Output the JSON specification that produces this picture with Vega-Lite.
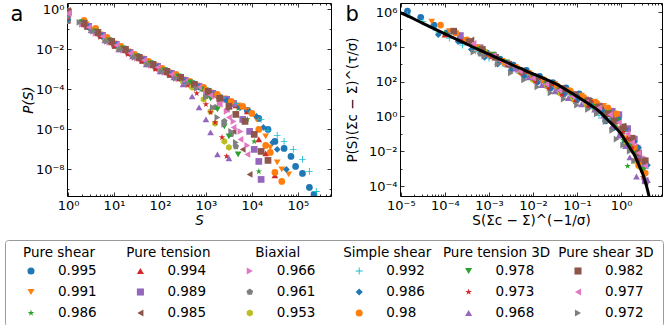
{
"$schema":"https://vega.github.io/schema/vega-lite/v6.json",
"background":"white",
"padding":{"left":2,"top":2,"right":0,"bottom":0},
"datasets":{
"pts":[
{"s":"Pure shear 0.995","S":1,"P":0.501,"X":1.41e-5,"Y":1.12e6},
{"s":"Pure shear 0.995","S":2.0,"P":0.224,"X":2.82e-5,"Y":5.01e5},
{"s":"Pure shear 0.995","S":3.98,"P":0.0794,"X":5.62e-5,"Y":1.78e5},
{"s":"Pure shear 0.995","S":7.94,"P":0.0282,"X":1.12e-4,"Y":6.31e4},
{"s":"Pure shear 0.995","S":15.8,"P":0.01,"X":2.24e-4,"Y":2.24e4},
{"s":"Pure shear 0.995","S":31.6,"P":4.47e-3,"X":4.47e-4,"Y":1e4},
{"s":"Pure shear 0.995","S":63.1,"P":2.0e-3,"X":8.91e-4,"Y":4.47e3},
{"s":"Pure shear 0.995","S":126,"P":8.91e-4,"X":1.78e-3,"Y":2.0e3},
{"s":"Pure shear 0.995","S":251,"P":3.98e-4,"X":3.55e-3,"Y":891},
{"s":"Pure shear 0.995","S":501,"P":2.0e-4,"X":7.08e-3,"Y":447},
{"s":"Pure shear 0.995","S":1000,"P":8.91e-5,"X":1.41e-2,"Y":200},
{"s":"Pure shear 0.995","S":1995,"P":3.98e-5,"X":2.82e-2,"Y":89.1},
{"s":"Pure shear 0.995","S":3981,"P":2.0e-5,"X":5.62e-2,"Y":44.7},
{"s":"Pure shear 0.995","S":7943,"P":8.91e-6,"X":0.112,"Y":20.0},
{"s":"Pure shear 0.995","S":14125,"P":3.55e-6,"X":0.2,"Y":7.94},
{"s":"Pure shear 0.995","S":22387,"P":1e-6,"X":0.316,"Y":2.24},
{"s":"Pure shear 0.995","S":31623,"P":2.51e-7,"X":0.447,"Y":0.562},
{"s":"Pure shear 0.995","S":50119,"P":1.12e-7,"X":0.708,"Y":0.251},
{"s":"Pure shear 0.995","S":70795,"P":4.47e-8,"X":1,"Y":0.1},
{"s":"Pure shear 0.995","S":89125,"P":1.41e-8,"X":1.26,"Y":0.0316},
{"s":"Pure shear 0.995","S":125893,"P":6.31e-9,"X":1.78,"Y":0.0141},
{"s":"Pure shear 0.995","S":177828,"P":1.26e-9,"X":2.51,"Y":2.82e-3},
{"s":"Pure shear 0.995","S":223872,"P":5.62e-10,"X":3.16,"Y":1.26e-3},
{"s":"Pure shear 0.991","S":1,"P":0.631,"X":5.01e-5,"Y":2.82e5},
{"s":"Pure shear 0.991","S":2.51,"P":0.178,"X":1.26e-4,"Y":7.94e4},
{"s":"Pure shear 0.991","S":5.01,"P":0.0562,"X":2.51e-4,"Y":2.51e4},
{"s":"Pure shear 0.991","S":10,"P":0.02,"X":5.01e-4,"Y":8.91e3},
{"s":"Pure shear 0.991","S":20,"P":7.94e-3,"X":1e-3,"Y":3.55e3},
{"s":"Pure shear 0.991","S":39.8,"P":3.55e-3,"X":2.0e-3,"Y":1.58e3},
{"s":"Pure shear 0.991","S":79.4,"P":1.58e-3,"X":3.98e-3,"Y":708},
{"s":"Pure shear 0.991","S":158,"P":7.08e-4,"X":7.94e-3,"Y":316},
{"s":"Pure shear 0.991","S":316,"P":3.16e-4,"X":1.58e-2,"Y":141},
{"s":"Pure shear 0.991","S":631,"P":1.58e-4,"X":3.16e-2,"Y":70.8},
{"s":"Pure shear 0.991","S":1259,"P":7.08e-5,"X":6.31e-2,"Y":31.6},
{"s":"Pure shear 0.991","S":2512,"P":3.55e-5,"X":0.126,"Y":15.8},
{"s":"Pure shear 0.991","S":5012,"P":1.58e-5,"X":0.251,"Y":7.08},
{"s":"Pure shear 0.991","S":7943,"P":8.91e-6,"X":0.398,"Y":3.98},
{"s":"Pure shear 0.991","S":12589,"P":3.16e-6,"X":0.631,"Y":1.41},
{"s":"Pure shear 0.991","S":19953,"P":4.47e-7,"X":1,"Y":0.2},
{"s":"Pure shear 0.991","S":25119,"P":1.26e-7,"X":1.26,"Y":0.0562},
{"s":"Pure shear 0.991","S":35481,"P":2.24e-8,"X":1.78,"Y":0.01},
{"s":"Pure shear 0.991","S":44668,"P":1e-8,"X":2.24,"Y":4.47e-3},
{"s":"Pure shear 0.991","S":63096,"P":5.62e-9,"X":3.16,"Y":2.51e-3},
{"s":"Pure shear 0.986","S":1,"P":0.355,"X":1e-4,"Y":6.31e4},
{"s":"Pure shear 0.986","S":3.16,"P":0.1,"X":3.16e-4,"Y":1.78e4},
{"s":"Pure shear 0.986","S":6.31,"P":0.0355,"X":6.31e-4,"Y":6.31e3},
{"s":"Pure shear 0.986","S":12.6,"P":0.0126,"X":1.26e-3,"Y":2.24e3},
{"s":"Pure shear 0.986","S":25.1,"P":5.01e-3,"X":2.51e-3,"Y":891},
{"s":"Pure shear 0.986","S":50.1,"P":2.24e-3,"X":5.01e-3,"Y":398},
{"s":"Pure shear 0.986","S":100,"P":1e-3,"X":1e-2,"Y":178},
{"s":"Pure shear 0.986","S":200,"P":4.47e-4,"X":2.0e-2,"Y":79.4},
{"s":"Pure shear 0.986","S":398,"P":2.24e-4,"X":3.98e-2,"Y":39.8},
{"s":"Pure shear 0.986","S":794,"P":1e-4,"X":7.94e-2,"Y":17.8},
{"s":"Pure shear 0.986","S":1585,"P":5.01e-5,"X":0.158,"Y":8.91},
{"s":"Pure shear 0.986","S":3162,"P":2.24e-5,"X":0.316,"Y":3.98},
{"s":"Pure shear 0.986","S":5012,"P":1.12e-5,"X":0.501,"Y":2.0},
{"s":"Pure shear 0.986","S":7943,"P":3.16e-6,"X":0.794,"Y":0.562},
{"s":"Pure shear 0.986","S":11220,"P":2.51e-7,"X":1.12,"Y":0.0447},
{"s":"Pure shear 0.986","S":14125,"P":7.94e-9,"X":1.41,"Y":1.41e-3},
{"s":"Pure tension 0.994","S":1,"P":0.282,"X":1e-4,"Y":5.01e4},
{"s":"Pure tension 0.994","S":2.24,"P":0.178,"X":2.24e-4,"Y":3.16e4},
{"s":"Pure tension 0.994","S":4.47,"P":0.0631,"X":4.47e-4,"Y":1.12e4},
{"s":"Pure tension 0.994","S":8.91,"P":0.0224,"X":8.91e-4,"Y":3.98e3},
{"s":"Pure tension 0.994","S":17.8,"P":8.91e-3,"X":1.78e-3,"Y":1.58e3},
{"s":"Pure tension 0.994","S":35.5,"P":3.55e-3,"X":3.55e-3,"Y":631},
{"s":"Pure tension 0.994","S":70.8,"P":1.58e-3,"X":7.08e-3,"Y":282},
{"s":"Pure tension 0.994","S":141,"P":7.08e-4,"X":1.41e-2,"Y":126},
{"s":"Pure tension 0.994","S":282,"P":3.55e-4,"X":2.82e-2,"Y":63.1},
{"s":"Pure tension 0.994","S":562,"P":1.58e-4,"X":5.62e-2,"Y":28.2},
{"s":"Pure tension 0.994","S":1122,"P":7.08e-5,"X":0.112,"Y":12.6},
{"s":"Pure tension 0.994","S":2239,"P":3.55e-5,"X":0.224,"Y":6.31},
{"s":"Pure tension 0.994","S":4467,"P":1.58e-5,"X":0.447,"Y":2.82},
{"s":"Pure tension 0.994","S":7943,"P":7.94e-6,"X":0.794,"Y":1.41},
{"s":"Pure tension 0.994","S":14125,"P":3.16e-7,"X":1.41,"Y":0.0562},
{"s":"Pure tension 0.994","S":19953,"P":6.31e-8,"X":2.0,"Y":0.0112},
{"s":"Pure tension 0.994","S":31623,"P":5.01e-9,"X":3.16,"Y":8.91e-4},
{"s":"Pure tension 0.989","S":1,"P":0.708,"X":2.24e-4,"Y":4.47e4},
{"s":"Pure tension 0.989","S":2.82,"P":0.141,"X":6.31e-4,"Y":8.91e3},
{"s":"Pure tension 0.989","S":5.62,"P":0.0501,"X":1.26e-3,"Y":3.16e3},
{"s":"Pure tension 0.989","S":11.2,"P":0.0178,"X":2.51e-3,"Y":1.12e3},
{"s":"Pure tension 0.989","S":22.4,"P":7.08e-3,"X":5.01e-3,"Y":447},
{"s":"Pure tension 0.989","S":44.7,"P":3.16e-3,"X":1e-2,"Y":200},
{"s":"Pure tension 0.989","S":89.1,"P":1.41e-3,"X":2.0e-2,"Y":89.1},
{"s":"Pure tension 0.989","S":178,"P":6.31e-4,"X":3.98e-2,"Y":39.8},
{"s":"Pure tension 0.989","S":355,"P":2.82e-4,"X":7.94e-2,"Y":17.8},
{"s":"Pure tension 0.989","S":708,"P":1.41e-4,"X":0.158,"Y":8.91},
{"s":"Pure tension 0.989","S":1413,"P":6.31e-5,"X":0.316,"Y":3.98},
{"s":"Pure tension 0.989","S":2818,"P":3.16e-5,"X":0.631,"Y":2.0},
{"s":"Pure tension 0.989","S":3981,"P":2.0e-5,"X":0.891,"Y":1.26},
{"s":"Pure tension 0.989","S":6310,"P":3.16e-6,"X":1.41,"Y":0.2},
{"s":"Pure tension 0.989","S":8913,"P":7.94e-7,"X":2.0,"Y":0.0501},
{"s":"Pure tension 0.989","S":11220,"P":1e-7,"X":2.51,"Y":6.31e-3},
{"s":"Pure tension 0.989","S":14125,"P":2.51e-8,"X":3.16,"Y":1.58e-3},
{"s":"Pure tension 0.989","S":15849,"P":3.16e-9,"X":3.55,"Y":2.0e-4},
{"s":"Pure tension 0.985","S":1,"P":0.891,"X":3.98e-4,"Y":2.51e4},
{"s":"Pure tension 0.985","S":3.55,"P":0.0794,"X":1.41e-3,"Y":2.24e3},
{"s":"Pure tension 0.985","S":7.08,"P":0.0282,"X":2.82e-3,"Y":794},
{"s":"Pure tension 0.985","S":14.1,"P":0.01,"X":5.62e-3,"Y":282},
{"s":"Pure tension 0.985","S":28.2,"P":3.98e-3,"X":1.12e-2,"Y":112},
{"s":"Pure tension 0.985","S":56.2,"P":1.78e-3,"X":2.24e-2,"Y":50.1},
{"s":"Pure tension 0.985","S":112,"P":7.94e-4,"X":4.47e-2,"Y":22.4},
{"s":"Pure tension 0.985","S":224,"P":3.98e-4,"X":8.91e-2,"Y":11.2},
{"s":"Pure tension 0.985","S":447,"P":1.78e-4,"X":0.178,"Y":5.01},
{"s":"Pure tension 0.985","S":891,"P":8.91e-5,"X":0.355,"Y":2.51},
{"s":"Pure tension 0.985","S":1585,"P":4.47e-5,"X":0.631,"Y":1.26},
{"s":"Pure tension 0.985","S":2818,"P":1e-5,"X":1.12,"Y":0.282},
{"s":"Pure tension 0.985","S":3981,"P":7.94e-7,"X":1.58,"Y":0.0224},
{"s":"Pure tension 0.985","S":6310,"P":1e-7,"X":2.51,"Y":2.82e-3},
{"s":"Pure tension 0.985","S":8913,"P":5.62e-9,"X":3.55,"Y":1.58e-4},
{"s":"Biaxial 0.966","S":1,"P":0.398,"X":4.47e-4,"Y":1e4},
{"s":"Biaxial 0.966","S":2.0,"P":0.178,"X":8.91e-4,"Y":4.47e3},
{"s":"Biaxial 0.966","S":3.98,"P":0.0631,"X":1.78e-3,"Y":1.58e3},
{"s":"Biaxial 0.966","S":7.94,"P":0.0224,"X":3.55e-3,"Y":562},
{"s":"Biaxial 0.966","S":15.8,"P":8.91e-3,"X":7.08e-3,"Y":224},
{"s":"Biaxial 0.966","S":31.6,"P":3.55e-3,"X":1.41e-2,"Y":89.1},
{"s":"Biaxial 0.966","S":63.1,"P":1.58e-3,"X":2.82e-2,"Y":39.8},
{"s":"Biaxial 0.966","S":126,"P":7.08e-4,"X":5.62e-2,"Y":17.8},
{"s":"Biaxial 0.966","S":251,"P":3.55e-4,"X":0.112,"Y":8.91},
{"s":"Biaxial 0.966","S":501,"P":1.58e-4,"X":0.224,"Y":3.98},
{"s":"Biaxial 0.966","S":1000,"P":7.94e-5,"X":0.447,"Y":2.0},
{"s":"Biaxial 0.966","S":1413,"P":3.98e-5,"X":0.631,"Y":1},
{"s":"Biaxial 0.966","S":1995,"P":2.0e-5,"X":0.891,"Y":0.501},
{"s":"Biaxial 0.966","S":2818,"P":7.94e-6,"X":1.26,"Y":0.2},
{"s":"Biaxial 0.966","S":3981,"P":2.51e-6,"X":1.78,"Y":0.0631},
{"s":"Biaxial 0.966","S":5623,"P":7.94e-7,"X":2.51,"Y":0.02},
{"s":"Biaxial 0.966","S":7943,"P":1.58e-7,"X":3.55,"Y":3.98e-3},
{"s":"Biaxial 0.961","S":1,"P":0.251,"X":6.31e-4,"Y":3.98e3},
{"s":"Biaxial 0.961","S":2.51,"P":0.126,"X":1.58e-3,"Y":2.0e3},
{"s":"Biaxial 0.961","S":5.01,"P":0.0447,"X":3.16e-3,"Y":708},
{"s":"Biaxial 0.961","S":10,"P":0.0141,"X":6.31e-3,"Y":224},
{"s":"Biaxial 0.961","S":20,"P":6.31e-3,"X":1.26e-2,"Y":100},
{"s":"Biaxial 0.961","S":39.8,"P":2.51e-3,"X":2.51e-2,"Y":39.8},
{"s":"Biaxial 0.961","S":79.4,"P":1.12e-3,"X":5.01e-2,"Y":17.8},
{"s":"Biaxial 0.961","S":158,"P":5.01e-4,"X":0.1,"Y":7.94},
{"s":"Biaxial 0.961","S":316,"P":2.51e-4,"X":0.2,"Y":3.98},
{"s":"Biaxial 0.961","S":562,"P":1.26e-4,"X":0.355,"Y":2.0},
{"s":"Biaxial 0.961","S":1000,"P":4.47e-5,"X":0.631,"Y":0.708},
{"s":"Biaxial 0.961","S":1585,"P":1.26e-5,"X":1,"Y":0.2},
{"s":"Biaxial 0.961","S":2512,"P":2.51e-6,"X":1.58,"Y":0.0398},
{"s":"Biaxial 0.961","S":3548,"P":5.62e-7,"X":2.24,"Y":8.91e-3},
{"s":"Biaxial 0.961","S":4467,"P":1.41e-7,"X":2.82,"Y":2.24e-3},
{"s":"Biaxial 0.953","S":1,"P":0.501,"X":7.94e-4,"Y":5.62e3},
{"s":"Biaxial 0.953","S":3.16,"P":0.1,"X":2.51e-3,"Y":1.12e3},
{"s":"Biaxial 0.953","S":6.31,"P":0.0316,"X":5.01e-3,"Y":355},
{"s":"Biaxial 0.953","S":12.6,"P":0.0112,"X":1e-2,"Y":126},
{"s":"Biaxial 0.953","S":25.1,"P":5.01e-3,"X":2.0e-2,"Y":56.2},
{"s":"Biaxial 0.953","S":50.1,"P":2.0e-3,"X":3.98e-2,"Y":22.4},
{"s":"Biaxial 0.953","S":100,"P":8.91e-4,"X":7.94e-2,"Y":10},
{"s":"Biaxial 0.953","S":200,"P":4.47e-4,"X":0.158,"Y":5.01},
{"s":"Biaxial 0.953","S":316,"P":2.51e-4,"X":0.251,"Y":2.82},
{"s":"Biaxial 0.953","S":501,"P":1.26e-4,"X":0.398,"Y":1.41},
{"s":"Biaxial 0.953","S":891,"P":3.16e-5,"X":0.708,"Y":0.355},
{"s":"Biaxial 0.953","S":1259,"P":7.94e-6,"X":1,"Y":0.0891},
{"s":"Biaxial 0.953","S":1585,"P":2.0e-6,"X":1.26,"Y":0.0224},
{"s":"Biaxial 0.953","S":2512,"P":2.51e-7,"X":2.0,"Y":2.82e-3},
{"s":"Biaxial 0.953","S":3162,"P":1.26e-7,"X":2.51,"Y":1.41e-3},
{"s":"Simple shear 0.992","S":1,"P":0.562,"X":1.41e-5,"Y":7.08e5},
{"s":"Simple shear 0.992","S":2.24,"P":0.224,"X":3.16e-5,"Y":2.82e5},
{"s":"Simple shear 0.992","S":4.47,"P":0.0708,"X":6.31e-5,"Y":8.91e4},
{"s":"Simple shear 0.992","S":8.91,"P":0.0251,"X":1.26e-4,"Y":3.16e4},
{"s":"Simple shear 0.992","S":17.8,"P":0.01,"X":2.51e-4,"Y":1.26e4},
{"s":"Simple shear 0.992","S":35.5,"P":4.47e-3,"X":5.01e-4,"Y":5.62e3},
{"s":"Simple shear 0.992","S":70.8,"P":1.78e-3,"X":1e-3,"Y":2.24e3},
{"s":"Simple shear 0.992","S":141,"P":8.91e-4,"X":2.0e-3,"Y":1.12e3},
{"s":"Simple shear 0.992","S":282,"P":3.98e-4,"X":3.98e-3,"Y":501},
{"s":"Simple shear 0.992","S":562,"P":2.0e-4,"X":7.94e-3,"Y":251},
{"s":"Simple shear 0.992","S":1122,"P":8.91e-5,"X":1.58e-2,"Y":112},
{"s":"Simple shear 0.992","S":2239,"P":3.98e-5,"X":3.16e-2,"Y":50.1},
{"s":"Simple shear 0.992","S":4467,"P":2.0e-5,"X":6.31e-2,"Y":25.1},
{"s":"Simple shear 0.992","S":8913,"P":8.91e-6,"X":0.126,"Y":11.2},
{"s":"Simple shear 0.992","S":15849,"P":3.16e-6,"X":0.224,"Y":3.98},
{"s":"Simple shear 0.992","S":22387,"P":8.91e-7,"X":0.316,"Y":1.12},
{"s":"Simple shear 0.992","S":35481,"P":5.01e-7,"X":0.501,"Y":0.631},
{"s":"Simple shear 0.992","S":50119,"P":2.51e-7,"X":0.708,"Y":0.316},
{"s":"Simple shear 0.992","S":79433,"P":1e-7,"X":1.12,"Y":0.126},
{"s":"Simple shear 0.992","S":125893,"P":3.16e-8,"X":1.78,"Y":0.0398},
{"s":"Simple shear 0.992","S":177828,"P":7.94e-9,"X":2.51,"Y":0.01},
{"s":"Simple shear 0.992","S":251189,"P":7.94e-10,"X":3.55,"Y":1e-3},
{"s":"Simple shear 0.986","S":1,"P":0.316,"X":7.08e-5,"Y":5.01e4},
{"s":"Simple shear 0.986","S":2.82,"P":0.126,"X":2.0e-4,"Y":2.0e4},
{"s":"Simple shear 0.986","S":5.62,"P":0.0447,"X":3.98e-4,"Y":7.08e3},
{"s":"Simple shear 0.986","S":11.2,"P":0.0158,"X":7.94e-4,"Y":2.51e3},
{"s":"Simple shear 0.986","S":22.4,"P":6.31e-3,"X":1.58e-3,"Y":1e3},
{"s":"Simple shear 0.986","S":44.7,"P":2.82e-3,"X":3.16e-3,"Y":447},
{"s":"Simple shear 0.986","S":89.1,"P":1.26e-3,"X":6.31e-3,"Y":200},
{"s":"Simple shear 0.986","S":178,"P":5.62e-4,"X":1.26e-2,"Y":89.1},
{"s":"Simple shear 0.986","S":355,"P":2.51e-4,"X":2.51e-2,"Y":39.8},
{"s":"Simple shear 0.986","S":708,"P":1.26e-4,"X":5.01e-2,"Y":20.0},
{"s":"Simple shear 0.986","S":1413,"P":5.62e-5,"X":0.1,"Y":8.91},
{"s":"Simple shear 0.986","S":2818,"P":2.82e-5,"X":0.2,"Y":4.47},
{"s":"Simple shear 0.986","S":5623,"P":1.26e-5,"X":0.398,"Y":2.0},
{"s":"Simple shear 0.986","S":8913,"P":7.94e-6,"X":0.631,"Y":1.26},
{"s":"Simple shear 0.986","S":12589,"P":4.47e-6,"X":0.891,"Y":0.708},
{"s":"Simple shear 0.986","S":17783,"P":1.26e-6,"X":1.26,"Y":0.2},
{"s":"Simple shear 0.986","S":28184,"P":2.24e-7,"X":2.0,"Y":0.0355},
{"s":"Simple shear 0.986","S":35481,"P":1e-7,"X":2.51,"Y":0.0158},
{"s":"Simple shear 0.986","S":56234,"P":1e-8,"X":3.98,"Y":1.58e-3},
{"s":"Simple shear 0.98","S":1,"P":0.794,"X":7.94e-5,"Y":1.78e5},
{"s":"Simple shear 0.98","S":2.24,"P":0.282,"X":1.78e-4,"Y":6.31e4},
{"s":"Simple shear 0.98","S":3.98,"P":0.112,"X":3.16e-4,"Y":2.51e4},
{"s":"Simple shear 0.98","S":7.08,"P":0.0398,"X":5.62e-4,"Y":8.91e3},
{"s":"Simple shear 0.98","S":14.1,"P":0.0141,"X":1.12e-3,"Y":3.16e3},
{"s":"Simple shear 0.98","S":28.2,"P":5.62e-3,"X":2.24e-3,"Y":1.26e3},
{"s":"Simple shear 0.98","S":56.2,"P":2.51e-3,"X":4.47e-3,"Y":562},
{"s":"Simple shear 0.98","S":112,"P":1.12e-3,"X":8.91e-3,"Y":251},
{"s":"Simple shear 0.98","S":224,"P":5.62e-4,"X":1.78e-2,"Y":126},
{"s":"Simple shear 0.98","S":447,"P":2.51e-4,"X":3.55e-2,"Y":56.2},
{"s":"Simple shear 0.98","S":891,"P":1.26e-4,"X":7.08e-2,"Y":28.2},
{"s":"Simple shear 0.98","S":1778,"P":5.62e-5,"X":0.141,"Y":12.6},
{"s":"Simple shear 0.98","S":3548,"P":2.51e-5,"X":0.282,"Y":5.62},
{"s":"Simple shear 0.98","S":6310,"P":1.41e-5,"X":0.501,"Y":3.16},
{"s":"Simple shear 0.98","S":10000,"P":6.31e-6,"X":0.794,"Y":1.41},
{"s":"Simple shear 0.98","S":14125,"P":1e-6,"X":1.12,"Y":0.224},
{"s":"Simple shear 0.98","S":19953,"P":1.58e-7,"X":1.58,"Y":0.0355},
{"s":"Simple shear 0.98","S":25119,"P":7.08e-8,"X":2.0,"Y":0.0158},
{"s":"Simple shear 0.98","S":31623,"P":7.08e-9,"X":2.51,"Y":1.58e-3},
{"s":"Simple shear 0.98","S":44668,"P":2.51e-9,"X":3.55,"Y":5.62e-4},
{"s":"Pure tension 3D 0.978","S":1,"P":0.447,"X":6.31e-4,"Y":7.08e3},
{"s":"Pure tension 3D 0.978","S":2.0,"P":0.224,"X":1.26e-3,"Y":3.55e3},
{"s":"Pure tension 3D 0.978","S":3.98,"P":0.0794,"X":2.51e-3,"Y":1.26e3},
{"s":"Pure tension 3D 0.978","S":7.94,"P":0.0282,"X":5.01e-3,"Y":447},
{"s":"Pure tension 3D 0.978","S":15.8,"P":0.0112,"X":1e-2,"Y":178},
{"s":"Pure tension 3D 0.978","S":31.6,"P":4.47e-3,"X":2.0e-2,"Y":70.8},
{"s":"Pure tension 3D 0.978","S":63.1,"P":2.0e-3,"X":3.98e-2,"Y":31.6},
{"s":"Pure tension 3D 0.978","S":126,"P":8.91e-4,"X":7.94e-2,"Y":14.1},
{"s":"Pure tension 3D 0.978","S":251,"P":4.47e-4,"X":0.158,"Y":7.08},
{"s":"Pure tension 3D 0.978","S":447,"P":2.24e-4,"X":0.282,"Y":3.55},
{"s":"Pure tension 3D 0.978","S":794,"P":1e-4,"X":0.501,"Y":1.58},
{"s":"Pure tension 3D 0.978","S":1259,"P":3.55e-5,"X":0.794,"Y":0.562},
{"s":"Pure tension 3D 0.978","S":1778,"P":1e-5,"X":1.12,"Y":0.158},
{"s":"Pure tension 3D 0.978","S":2512,"P":1.41e-6,"X":1.58,"Y":0.0224},
{"s":"Pure tension 3D 0.978","S":3162,"P":4.47e-7,"X":2.0,"Y":7.08e-3},
{"s":"Pure tension 3D 0.978","S":5012,"P":5.62e-8,"X":3.16,"Y":8.91e-4},
{"s":"Pure tension 3D 0.973","S":1,"P":0.355,"X":1.12e-3,"Y":2.51e3},
{"s":"Pure tension 3D 0.973","S":2.51,"P":0.126,"X":2.82e-3,"Y":891},
{"s":"Pure tension 3D 0.973","S":5.01,"P":0.0398,"X":5.62e-3,"Y":282},
{"s":"Pure tension 3D 0.973","S":10,"P":0.0141,"X":1.12e-2,"Y":100},
{"s":"Pure tension 3D 0.973","S":20,"P":5.62e-3,"X":2.24e-2,"Y":39.8},
{"s":"Pure tension 3D 0.973","S":39.8,"P":2.51e-3,"X":4.47e-2,"Y":17.8},
{"s":"Pure tension 3D 0.973","S":79.4,"P":1e-3,"X":8.91e-2,"Y":7.08},
{"s":"Pure tension 3D 0.973","S":158,"P":5.01e-4,"X":0.178,"Y":3.55},
{"s":"Pure tension 3D 0.973","S":251,"P":3.16e-4,"X":0.282,"Y":2.24},
{"s":"Pure tension 3D 0.973","S":398,"P":1.58e-4,"X":0.447,"Y":1.12},
{"s":"Pure tension 3D 0.973","S":631,"P":6.31e-5,"X":0.708,"Y":0.447},
{"s":"Pure tension 3D 0.973","S":1000,"P":1.78e-5,"X":1.12,"Y":0.126},
{"s":"Pure tension 3D 0.973","S":1259,"P":7.08e-6,"X":1.41,"Y":0.0501},
{"s":"Pure tension 3D 0.973","S":1585,"P":2.24e-6,"X":1.78,"Y":0.0158},
{"s":"Pure tension 3D 0.973","S":2239,"P":3.98e-7,"X":2.51,"Y":2.82e-3},
{"s":"Pure tension 3D 0.973","S":2818,"P":4.47e-8,"X":3.16,"Y":3.16e-4},
{"s":"Pure tension 3D 0.968","S":1,"P":0.562,"X":1.26e-3,"Y":3.55e3},
{"s":"Pure tension 3D 0.968","S":3.16,"P":0.0891,"X":3.98e-3,"Y":562},
{"s":"Pure tension 3D 0.968","S":6.31,"P":0.0282,"X":7.94e-3,"Y":178},
{"s":"Pure tension 3D 0.968","S":12.6,"P":0.01,"X":1.58e-2,"Y":63.1},
{"s":"Pure tension 3D 0.968","S":25.1,"P":4.47e-3,"X":3.16e-2,"Y":28.2},
{"s":"Pure tension 3D 0.968","S":50.1,"P":1.78e-3,"X":6.31e-2,"Y":11.2},
{"s":"Pure tension 3D 0.968","S":100,"P":7.94e-4,"X":0.126,"Y":5.01},
{"s":"Pure tension 3D 0.968","S":200,"P":3.98e-4,"X":0.251,"Y":2.51},
{"s":"Pure tension 3D 0.968","S":316,"P":1.78e-4,"X":0.398,"Y":1.12},
{"s":"Pure tension 3D 0.968","S":501,"P":4.47e-5,"X":0.631,"Y":0.282},
{"s":"Pure tension 3D 0.968","S":708,"P":1.26e-5,"X":0.891,"Y":0.0794},
{"s":"Pure tension 3D 0.968","S":1000,"P":3.16e-6,"X":1.26,"Y":0.02},
{"s":"Pure tension 3D 0.968","S":1259,"P":7.08e-7,"X":1.58,"Y":4.47e-3},
{"s":"Pure tension 3D 0.968","S":1778,"P":5.62e-8,"X":2.24,"Y":3.55e-4},
{"s":"Pure tension 3D 0.968","S":3162,"P":3.55e-8,"X":3.98,"Y":2.24e-4},
{"s":"Pure shear 3D 0.982","S":1,"P":0.794,"X":1.58e-4,"Y":7.94e4},
{"s":"Pure shear 3D 0.982","S":2.24,"P":0.2,"X":3.55e-4,"Y":2.0e4},
{"s":"Pure shear 3D 0.982","S":4.47,"P":0.0708,"X":7.08e-4,"Y":7.08e3},
{"s":"Pure shear 3D 0.982","S":8.91,"P":0.0251,"X":1.41e-3,"Y":2.51e3},
{"s":"Pure shear 3D 0.982","S":17.8,"P":0.01,"X":2.82e-3,"Y":1e3},
{"s":"Pure shear 3D 0.982","S":35.5,"P":3.98e-3,"X":5.62e-3,"Y":398},
{"s":"Pure shear 3D 0.982","S":70.8,"P":1.78e-3,"X":1.12e-2,"Y":178},
{"s":"Pure shear 3D 0.982","S":141,"P":7.94e-4,"X":2.24e-2,"Y":79.4},
{"s":"Pure shear 3D 0.982","S":282,"P":3.98e-4,"X":4.47e-2,"Y":39.8},
{"s":"Pure shear 3D 0.982","S":562,"P":1.78e-4,"X":8.91e-2,"Y":17.8},
{"s":"Pure shear 3D 0.982","S":1122,"P":7.94e-5,"X":0.178,"Y":7.94},
{"s":"Pure shear 3D 0.982","S":1995,"P":3.55e-5,"X":0.316,"Y":3.55},
{"s":"Pure shear 3D 0.982","S":3162,"P":1.41e-5,"X":0.501,"Y":1.41},
{"s":"Pure shear 3D 0.982","S":4467,"P":5.62e-6,"X":0.708,"Y":0.562},
{"s":"Pure shear 3D 0.982","S":7079,"P":2.51e-6,"X":1.12,"Y":0.251},
{"s":"Pure shear 3D 0.982","S":11220,"P":5.62e-7,"X":1.78,"Y":0.0562},
{"s":"Pure shear 3D 0.982","S":15849,"P":7.94e-8,"X":2.51,"Y":7.94e-3},
{"s":"Pure shear 3D 0.982","S":22387,"P":2.82e-8,"X":3.55,"Y":2.82e-3},
{"s":"Pure shear 3D 0.977","S":1,"P":0.631,"X":4.47e-4,"Y":1.58e4},
{"s":"Pure shear 3D 0.977","S":2.82,"P":0.126,"X":1.26e-3,"Y":3.16e3},
{"s":"Pure shear 3D 0.977","S":5.62,"P":0.0447,"X":2.51e-3,"Y":1.12e3},
{"s":"Pure shear 3D 0.977","S":11.2,"P":0.0158,"X":5.01e-3,"Y":398},
{"s":"Pure shear 3D 0.977","S":22.4,"P":6.31e-3,"X":1e-2,"Y":158},
{"s":"Pure shear 3D 0.977","S":44.7,"P":2.82e-3,"X":2.0e-2,"Y":70.8},
{"s":"Pure shear 3D 0.977","S":89.1,"P":1.26e-3,"X":3.98e-2,"Y":31.6},
{"s":"Pure shear 3D 0.977","S":178,"P":5.62e-4,"X":7.94e-2,"Y":14.1},
{"s":"Pure shear 3D 0.977","S":355,"P":2.51e-4,"X":0.158,"Y":6.31},
{"s":"Pure shear 3D 0.977","S":708,"P":1.26e-4,"X":0.316,"Y":3.16},
{"s":"Pure shear 3D 0.977","S":1259,"P":5.01e-5,"X":0.562,"Y":1.26},
{"s":"Pure shear 3D 0.977","S":1995,"P":1.78e-5,"X":0.891,"Y":0.447},
{"s":"Pure shear 3D 0.977","S":3162,"P":3.98e-6,"X":1.41,"Y":0.1},
{"s":"Pure shear 3D 0.977","S":3981,"P":1.26e-6,"X":1.78,"Y":0.0316},
{"s":"Pure shear 3D 0.977","S":5623,"P":3.16e-7,"X":2.51,"Y":7.94e-3},
{"s":"Pure shear 3D 0.977","S":7943,"P":5.62e-8,"X":3.55,"Y":1.41e-3},
{"s":"Pure shear 3D 0.972","S":1,"P":0.398,"X":4.47e-4,"Y":5.01e3},
{"s":"Pure shear 3D 0.972","S":1.78,"P":0.224,"X":7.94e-4,"Y":2.82e3},
{"s":"Pure shear 3D 0.972","S":3.55,"P":0.0794,"X":1.58e-3,"Y":1e3},
{"s":"Pure shear 3D 0.972","S":7.08,"P":0.0251,"X":3.16e-3,"Y":316},
{"s":"Pure shear 3D 0.972","S":14.1,"P":0.01,"X":6.31e-3,"Y":126},
{"s":"Pure shear 3D 0.972","S":28.2,"P":3.98e-3,"X":1.26e-2,"Y":50.1},
{"s":"Pure shear 3D 0.972","S":56.2,"P":1.78e-3,"X":2.51e-2,"Y":22.4},
{"s":"Pure shear 3D 0.972","S":112,"P":7.94e-4,"X":5.01e-2,"Y":10},
{"s":"Pure shear 3D 0.972","S":224,"P":3.55e-4,"X":0.1,"Y":4.47},
{"s":"Pure shear 3D 0.972","S":398,"P":2.0e-4,"X":0.178,"Y":2.51},
{"s":"Pure shear 3D 0.972","S":631,"P":1.12e-4,"X":0.282,"Y":1.41},
{"s":"Pure shear 3D 0.972","S":1000,"P":3.98e-5,"X":0.447,"Y":0.501},
{"s":"Pure shear 3D 0.972","S":1413,"P":1.26e-5,"X":0.631,"Y":0.158},
{"s":"Pure shear 3D 0.972","S":1778,"P":3.98e-6,"X":0.794,"Y":0.0501},
{"s":"Pure shear 3D 0.972","S":2512,"P":1.78e-6,"X":1.12,"Y":0.0224},
{"s":"Pure shear 3D 0.972","S":3548,"P":7.94e-7,"X":1.58,"Y":0.01},
{"s":"Pure shear 3D 0.972","S":4467,"P":2.24e-7,"X":2.0,"Y":2.82e-3}
],
"fit":[
{"X":8.91e-6,"Y":1e6},{"X":1e-5,"Y":8.91e5},{"X":3.16e-5,"Y":2.24e5},{"X":1e-4,"Y":5.62e4},{"X":3.16e-4,"Y":1.41e4},{"X":1e-3,"Y":3.8e3},{"X":3.16e-3,"Y":1e3},{"X":1e-2,"Y":282},{"X":3.16e-2,"Y":79.4},{"X":0.1,"Y":14.1},{"X":0.178,"Y":5.62},{"X":0.316,"Y":2.0},{"X":0.501,"Y":0.631},{"X":0.794,"Y":0.2},{"X":1,"Y":0.1},{"X":1.26,"Y":0.0398},{"X":1.58,"Y":0.0158},{"X":2.0,"Y":6.31e-3},{"X":2.51,"Y":1.78e-3},{"X":2.82,"Y":8.91e-4},{"X":3.16,"Y":4.47e-4},{"X":3.55,"Y":1.78e-4},{"X":3.98,"Y":6.31e-5},{"X":4.47,"Y":1.78e-5}
],
"leg":[
{"c":0,"r":0,"t":"Pure shear"},{"c":0,"r":1,"t":"0.995","s":"Pure shear 0.995"},{"c":0,"r":2,"t":"0.991","s":"Pure shear 0.991"},{"c":0,"r":3,"t":"0.986","s":"Pure shear 0.986"},
{"c":1,"r":0,"t":"Pure tension"},{"c":1,"r":1,"t":"0.994","s":"Pure tension 0.994"},{"c":1,"r":2,"t":"0.989","s":"Pure tension 0.989"},{"c":1,"r":3,"t":"0.985","s":"Pure tension 0.985"},
{"c":2,"r":0,"t":"Biaxial"},{"c":2,"r":1,"t":"0.966","s":"Biaxial 0.966"},{"c":2,"r":2,"t":"0.961","s":"Biaxial 0.961"},{"c":2,"r":3,"t":"0.953","s":"Biaxial 0.953"},
{"c":3,"r":0,"t":"Simple shear"},{"c":3,"r":1,"t":"0.992","s":"Simple shear 0.992"},{"c":3,"r":2,"t":"0.986","s":"Simple shear 0.986"},{"c":3,"r":3,"t":"0.98","s":"Simple shear 0.98"},
{"c":4,"r":0,"t":"Pure tension 3D"},{"c":4,"r":1,"t":"0.978","s":"Pure tension 3D 0.978"},{"c":4,"r":2,"t":"0.973","s":"Pure tension 3D 0.973"},{"c":4,"r":3,"t":"0.968","s":"Pure tension 3D 0.968"},
{"c":5,"r":0,"t":"Pure shear 3D"},{"c":5,"r":1,"t":"0.982","s":"Pure shear 3D 0.982"},{"c":5,"r":2,"t":"0.977","s":"Pure shear 3D 0.977"},{"c":5,"r":3,"t":"0.972","s":"Pure shear 3D 0.972"}
]
},
"concat":[
{"hconcat":[
{"width":1,"height":193,"view":{"stroke":null},"data":{"values":[{"k":1}]},"mark":{"type":"point","opacity":0},"encoding":{}},
{"hconcat":[
{"width":264,"height":193,
 "view":{"stroke":"black","strokeWidth":1},
 "resolve":{"axis":{"x":"independent","y":"independent"}},
 "layer":[
  {"data":{"name":"pts"},
   "mark":{"type":"point","filled":true,"size":45,"opacity":1,"clip":true},
   "encoding":{
    "x":{"field":"S","type":"quantitative","scale":{"type":"log","domain":[0.95,525000],"nice":false},
         "axis":{"orient":"bottom","values":[1,10,100,1000,10000,100000],"labelExpr":"'10' + (round(log(datum.value)/LN10) < 0 ? '⁻' : '') + ['⁰','¹','²','³','⁴','⁵','⁶','⁷','⁸','⁹'][abs(round(log(datum.value)/LN10))]","tickSize":-4,"labelPadding":7,"title":"S","titleFontStyle":"italic","titlePadding":1}},
    "y":{"field":"P","type":"quantitative","scale":{"type":"log","domain":[4.7e-10,2.07],"nice":false},
         "axis":{"orient":"left","values":[1,0.01,1e-4,1e-6,1e-8],"labelExpr":"'10' + (round(log(datum.value)/LN10) < 0 ? '⁻' : '') + ['⁰','¹','²','³','⁴','⁵','⁶','⁷','⁸','⁹'][abs(round(log(datum.value)/LN10))]","tickSize":-4,"labelPadding":7,"title":"P(S)","titleFontStyle":"italic","titlePadding":0}},
    "color":{"field":"s","type":"nominal","legend":null,"scale":{"domain":["Pure shear 0.995","Pure shear 0.991","Pure shear 0.986","Pure tension 0.994","Pure tension 0.989","Pure tension 0.985","Biaxial 0.966","Biaxial 0.961","Biaxial 0.953","Simple shear 0.992","Simple shear 0.986","Simple shear 0.98","Pure tension 3D 0.978","Pure tension 3D 0.973","Pure tension 3D 0.968","Pure shear 3D 0.982","Pure shear 3D 0.977","Pure shear 3D 0.972"],"range":["#1f77b4","#ff7f0e","#2ca02c","#d62728","#9467bd","#8c564b","#e377c2","#7f7f7f","#bcbd22","#17becf","#1f77b4","#ff7f0e","#2ca02c","#d62728","#9467bd","#8c564b","#e377c2","#7f7f7f"]}},
    "shape":{"field":"s","type":"nominal","legend":null,"scale":{"domain":["Pure shear 0.995","Pure shear 0.991","Pure shear 0.986","Pure tension 0.994","Pure tension 0.989","Pure tension 0.985","Biaxial 0.966","Biaxial 0.961","Biaxial 0.953","Simple shear 0.992","Simple shear 0.986","Simple shear 0.98","Pure tension 3D 0.978","Pure tension 3D 0.973","Pure tension 3D 0.968","Pure shear 3D 0.982","Pure shear 3D 0.977","Pure shear 3D 0.972"],"range":["circle","triangle-down","M0,-1L0.2245,-0.309L0.951,-0.309L0.363,0.118L0.588,0.809L0,0.382L-0.588,0.809L-0.363,0.118L-0.951,-0.309L-0.2245,-0.309Z","triangle-up","square","triangle-left","triangle-right","M0,-1L0.951,-0.309L0.588,0.809L-0.588,0.809L-0.951,-0.309Z","M0,-1L0.866,-0.5L0.866,0.5L0,1L-0.866,0.5L-0.866,-0.5Z","M-1,-0.13H-0.13V-1H0.13V-0.13H1V0.13H0.13V1H-0.13V0.13H-1Z","diamond","circle","triangle-down","M0,-1L0.2245,-0.309L0.951,-0.309L0.363,0.118L0.588,0.809L0,0.382L-0.588,0.809L-0.363,0.118L-0.951,-0.309L-0.2245,-0.309Z","triangle-up","square","triangle-left","triangle-right"]}}
   }},
  {"data":{"values":[{"S":10,"P":0.001}]},"mark":{"type":"point","opacity":0},
   "encoding":{
    "x":{"field":"S","type":"quantitative","scale":{"type":"log","domain":[0.95,525000],"nice":false},"axis":{"orient":"bottom","values":[2,3,4,5,6,7,8,9,20,30,40,50,60,70,80,90,200,300,400,500,600,700,800,900,2000,3000,4000,5000,6000,7000,8000,9000,20000,30000,40000,50000,60000,70000,80000,90000,200000,300000,400000,500000],"labels":false,"tickSize":-2,"title":null}},
    "y":{"field":"P","type":"quantitative","scale":{"type":"log","domain":[4.7e-10,2.07],"nice":false},"axis":{"orient":"left","values":[0.1,1e-3,1e-5,1e-7,1e-9],"labels":false,"tickSize":-2,"title":null}}}},
  {"data":{"values":[{"S":10,"P":0.001}]},"mark":{"type":"point","opacity":0},
   "encoding":{
    "x":{"field":"S","type":"quantitative","scale":{"type":"log","domain":[0.95,525000],"nice":false},"axis":{"orient":"top","values":[1,10,100,1000,10000,100000],"labels":false,"tickSize":-4,"title":"a","titleX":-57,"titleY":17,"titleAngle":0,"titleAlign":"left","titleBaseline":"alphabetic","titleFontSize":21,"titleFontWeight":"normal"}},
    "y":{"field":"P","type":"quantitative","scale":{"type":"log","domain":[4.7e-10,2.07],"nice":false},"axis":{"orient":"right","values":[1,0.01,1e-4,1e-6,1e-8],"labels":false,"tickSize":-4,"title":null}}}},
  {"data":{"values":[{"S":10,"P":0.001}]},"mark":{"type":"point","opacity":0},
   "encoding":{
    "x":{"field":"S","type":"quantitative","scale":{"type":"log","domain":[0.95,525000],"nice":false},"axis":{"orient":"top","values":[2,3,4,5,6,7,8,9,20,30,40,50,60,70,80,90,200,300,400,500,600,700,800,900,2000,3000,4000,5000,6000,7000,8000,9000,20000,30000,40000,50000,60000,70000,80000,90000,200000,300000,400000,500000],"labels":false,"tickSize":-2,"title":null}},
    "y":{"field":"P","type":"quantitative","scale":{"type":"log","domain":[4.7e-10,2.07],"nice":false},"axis":{"orient":"right","values":[0.1,1e-3,1e-5,1e-7,1e-9],"labels":false,"tickSize":-2,"title":null}}}}
 ]},
{"width":262,"height":193,
 "view":{"stroke":"black","strokeWidth":1},
 "resolve":{"axis":{"x":"independent","y":"independent"}},
 "layer":[
  {"data":{"name":"pts"},
   "mark":{"type":"point","filled":true,"size":45,"opacity":1,"clip":true},
   "encoding":{
    "x":{"field":"X","type":"quantitative","scale":{"type":"log","domain":[9.55e-6,8.51],"nice":false},
         "axis":{"orient":"bottom","values":[1e-5,1e-4,1e-3,0.01,0.1,1],"labelExpr":"'10' + (round(log(datum.value)/LN10) < 0 ? '⁻' : '') + ['⁰','¹','²','³','⁴','⁵','⁶','⁷','⁸','⁹'][abs(round(log(datum.value)/LN10))]","tickSize":-4,"labelPadding":7,"title":"S(Σc − Σ)^(−1/σ)","titlePadding":1}},
    "y":{"field":"Y","type":"quantitative","scale":{"type":"log","domain":[2.69e-5,3.31e6],"nice":false},
         "axis":{"orient":"left","values":[1e6,1e4,100,1,0.01,1e-4],"labelExpr":"'10' + (round(log(datum.value)/LN10) < 0 ? '⁻' : '') + ['⁰','¹','²','³','⁴','⁵','⁶','⁷','⁸','⁹'][abs(round(log(datum.value)/LN10))]","tickSize":-4,"labelPadding":7,"title":"P(S)(Σc − Σ)^(τ/σ)","titlePadding":9}},
    "color":{"field":"s","type":"nominal","legend":null,"scale":{"domain":["Pure shear 0.995","Pure shear 0.991","Pure shear 0.986","Pure tension 0.994","Pure tension 0.989","Pure tension 0.985","Biaxial 0.966","Biaxial 0.961","Biaxial 0.953","Simple shear 0.992","Simple shear 0.986","Simple shear 0.98","Pure tension 3D 0.978","Pure tension 3D 0.973","Pure tension 3D 0.968","Pure shear 3D 0.982","Pure shear 3D 0.977","Pure shear 3D 0.972"],"range":["#1f77b4","#ff7f0e","#2ca02c","#d62728","#9467bd","#8c564b","#e377c2","#7f7f7f","#bcbd22","#17becf","#1f77b4","#ff7f0e","#2ca02c","#d62728","#9467bd","#8c564b","#e377c2","#7f7f7f"]}},
    "shape":{"field":"s","type":"nominal","legend":null,"scale":{"domain":["Pure shear 0.995","Pure shear 0.991","Pure shear 0.986","Pure tension 0.994","Pure tension 0.989","Pure tension 0.985","Biaxial 0.966","Biaxial 0.961","Biaxial 0.953","Simple shear 0.992","Simple shear 0.986","Simple shear 0.98","Pure tension 3D 0.978","Pure tension 3D 0.973","Pure tension 3D 0.968","Pure shear 3D 0.982","Pure shear 3D 0.977","Pure shear 3D 0.972"],"range":["circle","triangle-down","M0,-1L0.2245,-0.309L0.951,-0.309L0.363,0.118L0.588,0.809L0,0.382L-0.588,0.809L-0.363,0.118L-0.951,-0.309L-0.2245,-0.309Z","triangle-up","square","triangle-left","triangle-right","M0,-1L0.951,-0.309L0.588,0.809L-0.588,0.809L-0.951,-0.309Z","M0,-1L0.866,-0.5L0.866,0.5L0,1L-0.866,0.5L-0.866,-0.5Z","M-1,-0.13H-0.13V-1H0.13V-0.13H1V0.13H0.13V1H-0.13V0.13H-1Z","diamond","circle","triangle-down","M0,-1L0.2245,-0.309L0.951,-0.309L0.363,0.118L0.588,0.809L0,0.382L-0.588,0.809L-0.363,0.118L-0.951,-0.309L-0.2245,-0.309Z","triangle-up","square","triangle-left","triangle-right"]}}
   }},
  {"data":{"name":"fit"},
   "mark":{"type":"line","color":"black","strokeWidth":3,"clip":true,"interpolate":"monotone"},
   "encoding":{
    "x":{"field":"X","type":"quantitative","scale":{"type":"log","domain":[9.55e-6,8.51],"nice":false},"axis":null},
    "y":{"field":"Y","type":"quantitative","scale":{"type":"log","domain":[2.69e-5,3.31e6],"nice":false},"axis":null}}},
  {"data":{"values":[{"X":0.01,"Y":1}]},"mark":{"type":"point","opacity":0},
   "encoding":{
    "x":{"field":"X","type":"quantitative","scale":{"type":"log","domain":[9.55e-6,8.51],"nice":false},"axis":{"orient":"bottom","values":[2e-5,3e-5,4e-5,5e-5,6e-5,7e-5,8e-5,9e-5,2e-4,3e-4,4e-4,5e-4,6e-4,7e-4,8e-4,9e-4,0.002,0.003,0.004,0.005,0.006,0.007,0.008,0.009,0.02,0.03,0.04,0.05,0.06,0.07,0.08,0.09,0.2,0.3,0.4,0.5,0.6,0.7,0.8,0.9,2,3,4,5,6,7,8],"labels":false,"tickSize":-2,"title":null}},
    "y":{"field":"Y","type":"quantitative","scale":{"type":"log","domain":[2.69e-5,3.31e6],"nice":false},"axis":{"orient":"left","values":[1e5,1e3,10,0.1,1e-3],"labels":false,"tickSize":-2,"title":null}}}},
  {"data":{"values":[{"X":0.01,"Y":1}]},"mark":{"type":"point","opacity":0},
   "encoding":{
    "x":{"field":"X","type":"quantitative","scale":{"type":"log","domain":[9.55e-6,8.51],"nice":false},"axis":{"orient":"top","values":[1e-5,1e-4,1e-3,0.01,0.1,1],"labels":false,"tickSize":-4,"title":"b","titleX":-55,"titleY":17,"titleAngle":0,"titleAlign":"left","titleBaseline":"alphabetic","titleFontSize":21,"titleFontWeight":"normal"}},
    "y":{"field":"Y","type":"quantitative","scale":{"type":"log","domain":[2.69e-5,3.31e6],"nice":false},"axis":{"orient":"right","values":[1e6,1e4,100,1,0.01,1e-4],"labels":false,"tickSize":-4,"title":null}}}},
  {"data":{"values":[{"X":0.01,"Y":1}]},"mark":{"type":"point","opacity":0},
   "encoding":{
    "x":{"field":"X","type":"quantitative","scale":{"type":"log","domain":[9.55e-6,8.51],"nice":false},"axis":{"orient":"top","values":[2e-5,3e-5,4e-5,5e-5,6e-5,7e-5,8e-5,9e-5,2e-4,3e-4,4e-4,5e-4,6e-4,7e-4,8e-4,9e-4,0.002,0.003,0.004,0.005,0.006,0.007,0.008,0.009,0.02,0.03,0.04,0.05,0.06,0.07,0.08,0.09,0.2,0.3,0.4,0.5,0.6,0.7,0.8,0.9,2,3,4,5,6,7,8],"labels":false,"tickSize":-2,"title":null}},
    "y":{"field":"Y","type":"quantitative","scale":{"type":"log","domain":[2.69e-5,3.31e6],"nice":false},"axis":{"orient":"right","values":[1e5,1e3,10,0.1,1e-3],"labels":false,"tickSize":-2,"title":null}}}}
 ]}
],"spacing":12}
],"spacing":0},
{"width":658,"height":86,
 "view":{"stroke":"#999999","strokeWidth":1,"cornerRadius":3},
 "data":{"name":"leg"},
 "layer":[
  {"transform":[{"filter":"isValid(datum.s)"}],
   "mark":{"type":"point","filled":true,"size":50,"opacity":1},
   "encoding":{
    "x":{"field":"c","type":"quantitative","scale":{"domain":[-0.2377,5.777],"nice":false,"zero":false},"axis":null},
    "y":{"field":"r","type":"quantitative","scale":{"domain":[-0.476,3.619],"nice":false,"zero":false,"reverse":true},"axis":null},
    "color":{"field":"s","type":"nominal","legend":null,"scale":{"domain":["Pure shear 0.995","Pure shear 0.991","Pure shear 0.986","Pure tension 0.994","Pure tension 0.989","Pure tension 0.985","Biaxial 0.966","Biaxial 0.961","Biaxial 0.953","Simple shear 0.992","Simple shear 0.986","Simple shear 0.98","Pure tension 3D 0.978","Pure tension 3D 0.973","Pure tension 3D 0.968","Pure shear 3D 0.982","Pure shear 3D 0.977","Pure shear 3D 0.972"],"range":["#1f77b4","#ff7f0e","#2ca02c","#d62728","#9467bd","#8c564b","#e377c2","#7f7f7f","#bcbd22","#17becf","#1f77b4","#ff7f0e","#2ca02c","#d62728","#9467bd","#8c564b","#e377c2","#7f7f7f"]}},
    "shape":{"field":"s","type":"nominal","legend":null,"scale":{"domain":["Pure shear 0.995","Pure shear 0.991","Pure shear 0.986","Pure tension 0.994","Pure tension 0.989","Pure tension 0.985","Biaxial 0.966","Biaxial 0.961","Biaxial 0.953","Simple shear 0.992","Simple shear 0.986","Simple shear 0.98","Pure tension 3D 0.978","Pure tension 3D 0.973","Pure tension 3D 0.968","Pure shear 3D 0.982","Pure shear 3D 0.977","Pure shear 3D 0.972"],"range":["circle","triangle-down","M0,-1L0.2245,-0.309L0.951,-0.309L0.363,0.118L0.588,0.809L0,0.382L-0.588,0.809L-0.363,0.118L-0.951,-0.309L-0.2245,-0.309Z","triangle-up","square","triangle-left","triangle-right","M0,-1L0.951,-0.309L0.588,0.809L-0.588,0.809L-0.951,-0.309Z","M0,-1L0.866,-0.5L0.866,0.5L0,1L-0.866,0.5L-0.866,-0.5Z","M-1,-0.13H-0.13V-1H0.13V-0.13H1V0.13H0.13V1H-0.13V0.13H-1Z","diamond","circle","triangle-down","M0,-1L0.2245,-0.309L0.951,-0.309L0.363,0.118L0.588,0.809L0,0.382L-0.588,0.809L-0.363,0.118L-0.951,-0.309L-0.2245,-0.309Z","triangle-up","square","triangle-left","triangle-right"]}}
   }},
  {"transform":[{"filter":"isValid(datum.s)"}],
   "mark":{"type":"text","align":"left","baseline":"middle","dx":27,"fontSize":13.5,"color":"black"},
   "encoding":{
    "x":{"field":"c","type":"quantitative","scale":{"domain":[-0.2377,5.777],"nice":false,"zero":false},"axis":null},
    "y":{"field":"r","type":"quantitative","scale":{"domain":[-0.476,3.619],"nice":false,"zero":false,"reverse":true},"axis":null},
    "text":{"field":"t","type":"nominal"}}},
  {"transform":[{"filter":"!isValid(datum.s)"}],
   "mark":{"type":"text","align":"center","baseline":"middle","dx":28,"dy":3,"fontSize":13.5,"color":"black"},
   "encoding":{
    "x":{"field":"c","type":"quantitative","scale":{"domain":[-0.2377,5.777],"nice":false,"zero":false},"axis":null},
    "y":{"field":"r","type":"quantitative","scale":{"domain":[-0.476,3.619],"nice":false,"zero":false,"reverse":true},"axis":null},
    "text":{"field":"t","type":"nominal"}}}
 ]}
],
"columns":1,
"spacing":12,
"config":{
 "font":"DejaVu Sans",
 "view":{"stroke":"black"},
 "axis":{"grid":false,"domain":false,"tickColor":"black","tickWidth":0.8,"labelColor":"black","labelFont":"DejaVu Sans","labelFontSize":13,"titleFont":"DejaVu Sans","titleFontSize":13.5,"titleFontWeight":"normal","titleColor":"black","labelFlush":false,"labelOverlap":false,"labelBound":false},
 "text":{"font":"DejaVu Sans"},
 "title":{"font":"DejaVu Sans"}
}
}
